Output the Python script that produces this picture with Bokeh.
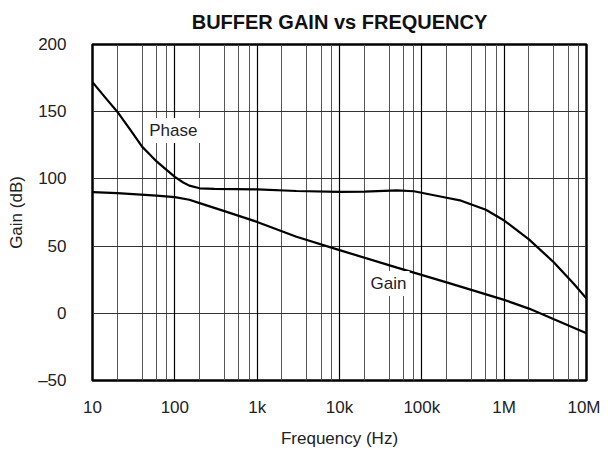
from bokeh.plotting import figure
from bokeh.models import FixedTicker, Grid, Label
from bokeh.embed import file_html
from bokeh.resources import INLINE

# ---- data ----
phase_freq = [10, 15, 20, 30, 40, 50, 60, 80, 100, 125, 150, 200, 300, 1e3, 3e3, 1e4,
              2e4, 5e4, 8e4, 2e5, 3e5, 4e5, 6e5, 1e6, 2e6, 4e6, 7e6, 1e7]
phase_val = [172, 159, 150, 135, 124, 118, 113, 106.5, 101.5, 97.5, 95, 93, 92.6, 92.2,
             91, 90.3, 90.5, 91.5, 90.8, 86, 83.8, 81, 77, 69, 55, 38, 22, 11]
gain_freq = [10, 20, 60, 100, 150, 200, 400, 1e3, 3e3, 1e4, 5e4, 2e5, 1e6, 2e6, 1e7]
gain_val = [90.1, 89.4, 87.6, 86.4, 84.5, 82, 76, 68, 57, 47, 34, 23, 10, 3.5, -14.8]

x_ticks = [10, 100, 1000, 10000, 100000, 1000000, 10000000]
x_tick_labels = ["10", "100", "1k", "10k", "100k", "1M", "10M"]
y_ticks = [-50, 0, 50, 100, 150, 200]
y_tick_labels = ["\u201350", "0", "50", "100", "150", "200"]
minor_grid = [m * d for d in [10, 100, 1000, 10000, 100000, 1000000] for m in (2, 4, 6, 8)]
y_grid = [0, 50, 100, 150]

FONT = "Liberation Sans"

p = figure(frame_width=494, frame_height=336, x_axis_type="log", x_range=(10, 1e7),
           y_range=(-50, 200), output_backend="svg", toolbar_location=None,
           min_border_left=92, min_border_right=14, min_border_top=43, min_border_bottom=62)

p.title.text = "BUFFER GAIN vs FREQUENCY"
p.title.text_font = FONT
p.title.text_font_size = "20px"
p.title.text_font_style = "bold"
p.title.align = "center"
p.title.vertical_align = "top"
p.title.text_color = "#111111"
p.title.standoff = 20

p.outline_line_color = "black"
p.outline_line_width = 2.5
p.background_fill_color = "white"
p.border_fill_color = "white"

# grids
p.xgrid.ticker = FixedTicker(ticks=minor_grid)
p.xgrid.grid_line_color = "#555555"
p.xgrid.grid_line_width = 1
p.add_layout(Grid(dimension=0, ticker=FixedTicker(ticks=x_ticks),
                  grid_line_color="black", grid_line_width=1.2))
p.ygrid.ticker = FixedTicker(ticks=y_grid)
p.ygrid.grid_line_color = "#333333"
p.ygrid.grid_line_width = 1

# axes
for ax in (p.xaxis, p.yaxis):
    ax.axis_line_color = None
    ax.major_tick_line_color = None
    ax.minor_tick_line_color = None
    ax.major_label_text_font = FONT
    ax.major_label_text_font_size = "17px"
    ax.major_label_text_color = "#222222"
    ax.axis_label_text_font = FONT
    ax.axis_label_text_font_size = "17px"
    ax.axis_label_text_font_style = "normal"
    ax.axis_label_text_color = "#222222"

p.xaxis.ticker = FixedTicker(ticks=x_ticks)
p.xaxis.major_label_overrides = {t: l for t, l in zip(x_ticks, x_tick_labels)}
p.xaxis.major_label_standoff = 11
p.xaxis.axis_label = "Frequency (Hz)"
p.xaxis.axis_label_standoff = 9

p.yaxis.ticker = FixedTicker(ticks=y_ticks)
p.yaxis.major_label_overrides = {t: l for t, l in zip(y_ticks, y_tick_labels)}
p.yaxis.major_label_standoff = 20
p.yaxis.axis_label = "Gain (dB)"
p.yaxis.axis_label_standoff = 9

# curves
p.line(phase_freq, phase_val, line_color="black", line_width=2.2)
p.line(gain_freq, gain_val, line_color="black", line_width=2.2)

p.add_layout(Label(x=96, y=136, text="Phase", text_align="center", text_baseline="middle",
                   text_font=FONT, text_font_size="17px", text_color="#222222",
                   background_fill_color="white", padding=3))
p.add_layout(Label(x=39400, y=22.2, text="Gain", text_align="center", text_baseline="middle",
                   text_font=FONT, text_font_size="17px", text_color="#222222",
                   background_fill_color="white", padding=3))

open("out.html", "w").write(file_html(p, INLINE))
